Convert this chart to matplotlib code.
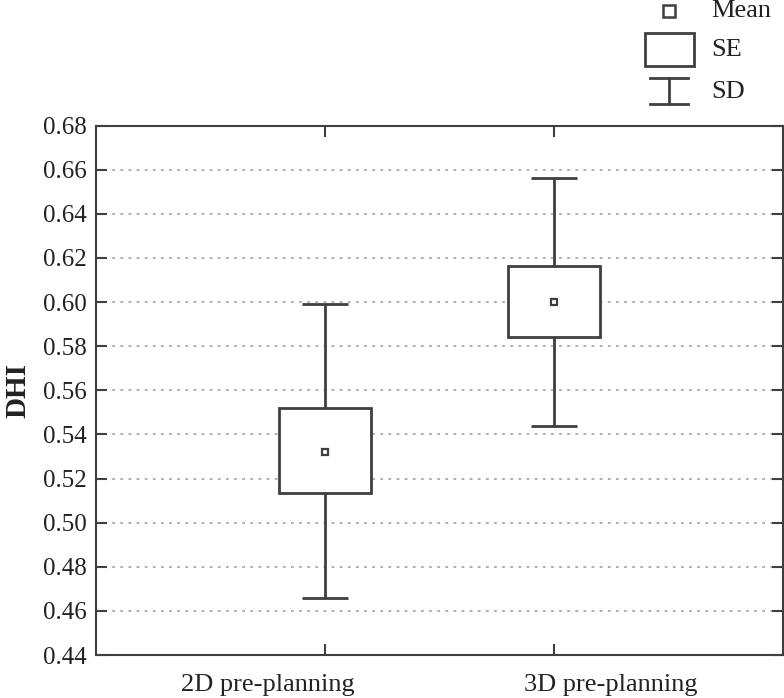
"""DHI box chart: mean, SE box and SD whiskers for two planning groups."""
import matplotlib
matplotlib.use("Agg")
import matplotlib.pyplot as plt
from matplotlib.patches import Rectangle
from matplotlib.lines import Line2D

# ── data ─────────────────────────────────────────────────────────────────────
groups = ["2D pre-planning", "3D pre-planning"]
means = [0.532, 0.600]
se_low = [0.5135, 0.584]
se_high = [0.552, 0.6165]
sd_low = [0.466, 0.5437]
sd_high = [0.599, 0.656]
y_ticks = [0.44, 0.46, 0.48, 0.50, 0.52, 0.54, 0.56, 0.58, 0.60, 0.62, 0.64, 0.66, 0.68]

W, H = 784, 698
DARK = "#3f3f3f"
TXT = "#222222"
plt.rcParams["font.family"] = ["Liberation Serif", "DejaVu Serif"]

fig = plt.figure(figsize=(W / 100, H / 100), dpi=100)
ax = fig.add_axes([96 / W, 1 - 655 / H, (783 - 96) / W, (655 - 125.5) / H])

positions = [1, 2]
x_max = 3
box_w = 0.405
cap_w = 0.2

for pos, m, lo, hi, dlo, dhi in zip(positions, means, se_low, se_high, sd_low, sd_high):
    ax.vlines(pos, hi, dhi, color=DARK, lw=2, zorder=3)
    ax.vlines(pos, dlo, lo, color=DARK, lw=2, zorder=3)
    ax.hlines([dlo, dhi], pos - cap_w / 2, pos + cap_w / 2, color=DARK, lw=2, zorder=3)
    ax.add_patch(Rectangle((pos - box_w / 2, lo), box_w, hi - lo,
                           facecolor="white", edgecolor=DARK, lw=2, zorder=3))
ax.plot(positions, means, ls="none", marker="s", ms=5, mfc="white",
        mec=DARK, mew=1.6, zorder=4)

ax.set_xlim(0, x_max)
ax.set_ylim(0.44, 0.68)
ax.set_yticks(y_ticks)
ax.set_yticklabels([f"{v:.2f}" for v in y_ticks])
ax.set_xticks(positions)
ax.set_xticklabels([])
# category labels sit at the quarter points of the axis, not under the ticks
ax.set_xticks([x_max * 0.25, x_max * 0.75], minor=True)
ax.set_xticklabels(groups, minor=True)

for v in y_ticks[1:-1]:
    ax.axhline(v, color="#a8a8a8", lw=1.3, ls=(0, (1.5, 3)), zorder=1)

ax.tick_params(axis="both", direction="in", length=8, width=1.5, color=DARK,
               labelcolor=TXT, top=True, right=True)
ax.tick_params(axis="y", pad=7, labelsize=18)
ax.tick_params(axis="x", which="minor", length=0, pad=14, labelsize=19,
               labelcolor=TXT, top=False)
for sp in ax.spines.values():
    sp.set_color(DARK)
    sp.set_linewidth(1.5)

ax.set_ylabel("DHI", fontsize=21, fontweight="bold", color=TXT, labelpad=8)

# ── legend (drawn by hand, top right above the axes) ─────────────────────────
def px(x, y):
    return x / W, 1 - y / H

fig.add_artist(Line2D(*zip(px(669, 10.5)), transform=fig.transFigure, ls="none",
                      marker="s", ms=8, mfc="white", mec=DARK, mew=1.8))
x0, y0 = px(645, 66)
x1, y1 = px(694, 33)
fig.add_artist(Rectangle((x0, y0), x1 - x0, y1 - y0, transform=fig.transFigure,
                         facecolor="white", edgecolor=DARK, lw=2))
for (xa, ya), (xb, yb) in [((650, 78), (688, 78)), ((650, 104), (688, 104)),
                           ((669, 78), (669, 104))]:
    fig.add_artist(Line2D([xa / W, xb / W], [1 - ya / H, 1 - yb / H],
                          transform=fig.transFigure, color=DARK, lw=2))
for label, y in [("Mean", 11), ("SE", 50), ("SD", 92)]:
    fig.text(711 / W, 1 - y / H, label, fontsize=19, color=TXT,
             ha="left", va="center")

fig.savefig("out.png", dpi=100)
